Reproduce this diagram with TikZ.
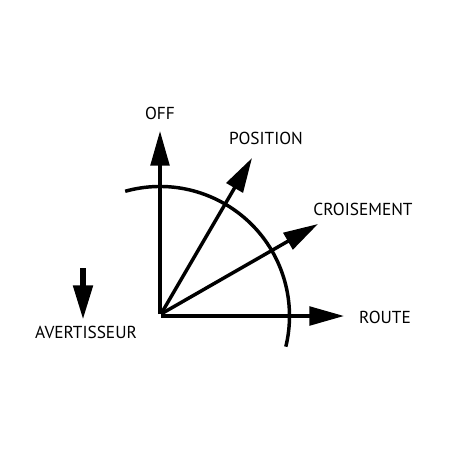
\documentclass[tikz,border=0pt]{standalone}
\usepackage{fontspec}
\setmainfont{PT Sans}
\usetikzlibrary{arrows.meta}
\begin{document}
\begin{tikzpicture}[x=0.75pt,y=-0.75pt,
  lbl/.style={inner sep=0pt,font=\fontsize{13pt}{15pt}\selectfont},
  ray/.style={line width=2.6pt,-{Triangle[length=26pt,width=14pt]}},
  arcline/.style={line width=2.6pt}]
\useasboundingbox (0,0) rectangle (452,452);
\coordinate (O) at (161,314);
\coordinate (offtip) at (160,131);
\coordinate (postip) at (252,158);
\coordinate (crotip) at (318,224);
\coordinate (routip) at (344,316);
\coordinate (avtop) at (83,268);
\coordinate (avtip) at (83,320);
\draw[ray] (160,314) -- (offtip);
\draw[ray] (O) -- (postip);
\draw[ray] (O) -- (crotip);
\draw[ray] (161,316) -- (routip);
\draw[arcline] (160,316) ++(-105.6:129.5) arc[start angle=-105.6,end angle=13.7,radius=129.5];
\draw[line width=4.5pt,-{Triangle[length=26pt,width=14pt]}] (avtop) -- (avtip);
\node[lbl] (off) at (160,113) {OFF};
\node[lbl] (pos) at (266,138) {POSITION};
\node[lbl] (cro) at (363,209) {CROISEMENT};
\node[lbl] (rou) at (385,317) {ROUTE};
\node[lbl] (av) at (86,332) {AVERTISSEUR};
\end{tikzpicture}
\end{document}
